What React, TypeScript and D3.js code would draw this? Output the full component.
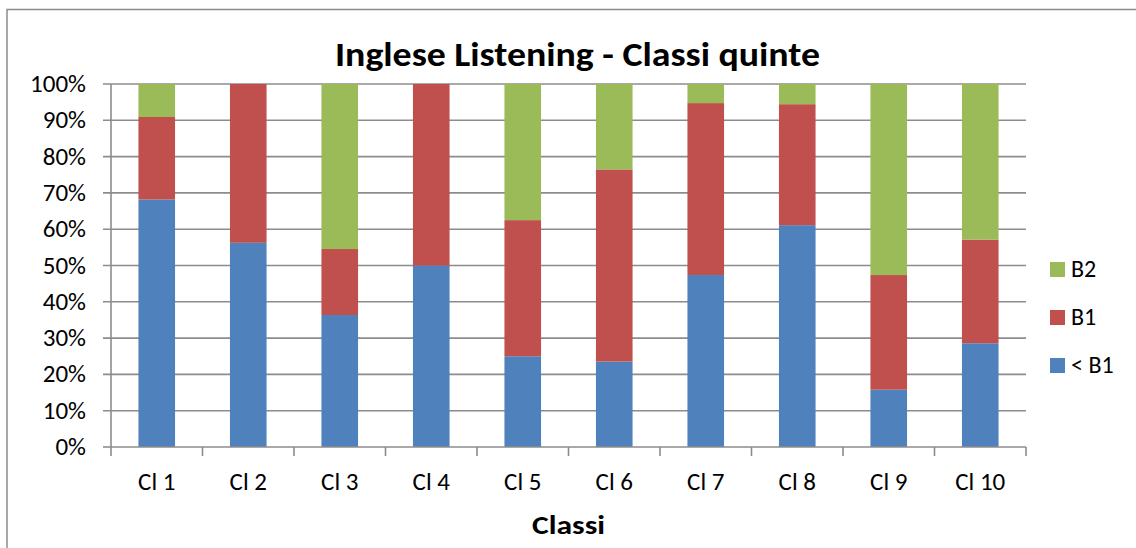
import React from "react";
import * as d3 from "d3";

const categories = ["Cl 1", "Cl 2", "Cl 3", "Cl 4", "Cl 5", "Cl 6", "Cl 7", "Cl 8", "Cl 9", "Cl 10"];
const belowB1 = [68.18, 56.25, 36.36, 50.0, 25.0, 23.53, 47.37, 61.11, 15.79, 28.57];
const b1 = [22.73, 43.75, 18.18, 50.0, 37.5, 52.94, 47.37, 33.33, 31.58, 28.57];
const b2 = [9.09, 0, 45.46, 0, 37.5, 23.53, 5.26, 5.56, 52.63, 42.86];
const yTicks = [0, 10, 20, 30, 40, 50, 60, 70, 80, 90, 100];

const seriesNames = ["< B1", "B1", "B2"];
const seriesColors = ["#4F81BD", "#C0504D", "#9BBB59"];

const W = 1136;
const H = 548;
const FONT = "Carlito, Calibri, Lato, 'Open Sans', sans-serif";

export default function App() {
  const left = 111;
  const right = 1026;
  const top = 84;
  const bottom = 447;

  const x = d3.scaleBand<string>().domain(categories).range([left, right]).paddingInner(0.6).paddingOuter(0.3);
  const xb = d3.scaleBand<string>().domain(categories).range([left, right]);
  const y = d3.scaleLinear().domain([0, 100]).range([bottom, top]);

  const rows = categories.map((c, i) => ({ cat: c, lo: belowB1[i], b1: b1[i], b2: b2[i] }));
  const stack = d3.stack<any>().keys(["lo", "b1", "b2"])(rows);

  const grid = "#8C8C8C";

  return (
    <svg
      width={W}
      height={H}
      style={{ position: "fixed", left: 0, top: 0, background: "#fff" }}
      fontFamily={FONT}
    >
      <rect x={0} y={0} width={W} height={H} fill="#fff" />
      <rect x={7} y={9.5} width={W + 20} height={H + 20} fill="none" stroke="#8C8C8C" strokeWidth={1.5} />

      <text x={577.5} y={66} textAnchor="middle" fontSize={35} fontWeight="bold" fill="#000" textLength={485} lengthAdjust="spacingAndGlyphs">
        Inglese Listening - Classi quinte
      </text>

      {yTicks.map((t) => (
        <g key={t}>
          <line x1={103} x2={t === 0 ? left : right} y1={y(t)} y2={y(t)} stroke={grid} strokeWidth={1.6} />
          <text x={86} y={y(t)} dy="0.32em" textAnchor="end" fontSize={25} fill="#000">
            {t + "%"}
          </text>
        </g>
      ))}

      {stack.map((s, si) => (
        <g key={si} fill={seriesColors[si]}>
          {s.map((d, i) => {
            const h = y(d[0]) - y(d[1]);
            if (h <= 0) return null;
            return (
              <rect
                key={i}
                x={x(categories[i])}
                y={y(d[1])}
                width={x.bandwidth()}
                height={h}
              />
            );
          })}
        </g>
      ))}

      <line x1={left} x2={left} y1={top} y2={bottom} stroke={grid} strokeWidth={1.6} />
      <line x1={left} x2={right} y1={bottom} y2={bottom} stroke={grid} strokeWidth={1.6} />
      {categories.map((c) => (
        <line key={c} x1={xb(c)} x2={xb(c)} y1={bottom} y2={bottom + 9} stroke={grid} strokeWidth={1.6} />
      ))}
      <line x1={right} x2={right} y1={bottom} y2={bottom + 9} stroke={grid} strokeWidth={1.6} />

      {categories.map((c) => (
        <text key={c} x={(xb(c) as number) + xb.bandwidth() / 2} y={490} textAnchor="middle" fontSize={25} fill="#000">
          {c}
        </text>
      ))}

      <text x={568.5} y={534} textAnchor="middle" fontSize={27} fontWeight="bold" fill="#000" textLength={73} lengthAdjust="spacingAndGlyphs">
        Classi
      </text>

      {[2, 1, 0].map((si, k) => (
        <g key={si} transform={`translate(1050, ${262 + k * 48})`}>
          <rect x={0} y={0} width={15} height={15} fill={seriesColors[si]} />
          <text x={21} y={15} fontSize={24} fill="#000">
            {seriesNames[si]}
          </text>
        </g>
      ))}
    </svg>
  );
}
